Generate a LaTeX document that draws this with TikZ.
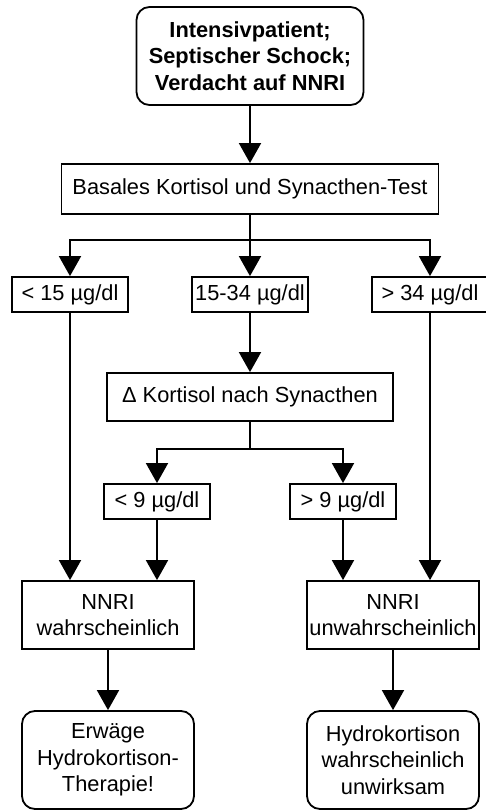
\documentclass[tikz,border=0pt]{standalone}
\usepackage{fontspec}
\setmainfont{Liberation Sans}
\usetikzlibrary{arrows.meta}
\begin{document}
\begin{tikzpicture}[x=1pt,y=-1pt,
  every node/.style={font=\fontsize{21.8}{26.5}\selectfont, align=center, inner sep=0pt},
  box/.style={draw, line width=1.8pt, minimum width=#1},
  rbox/.style={draw, line width=1.8pt, rounded corners=13pt},
  conn/.style={line width=1.8pt},
  arr/.style={conn, -{Triangle[width=22pt,length=20pt]}}
]
\useasboundingbox (0,0) rectangle (485,811);
\node[rbox, minimum width=227pt, minimum height=98pt, font=\fontsize{21.8}{26.5}\selectfont\bfseries] (top) at (250,56) {Intensivpatient;\\Septischer Schock;\\Verdacht auf NNRI};
\node[box=377pt, minimum height=50pt] (basal) at (250,189) {Basales Kortisol und Synacthen-Test};
\node[box=116pt, minimum height=35pt] (lt15) at (70,294.5) {< 15 µg/dl};
\node[box=116pt, minimum height=35pt] (mid) at (250,294.5) {15-34 µg/dl};
\node[box=116pt, minimum height=35pt] (gt34) at (430,294.5) {> 34 µg/dl};
\node[box=286pt, minimum height=48pt] (delta) at (250,397) {Δ Kortisol nach Synacthen};
\node[box=106pt, minimum height=35pt] (lt9) at (157,501.5) {< 9 µg/dl};
\node[box=106pt, minimum height=35pt] (gt9) at (343,501.5) {> 9 µg/dl};
\node[box=172pt, minimum height=68pt] (n1) at (108,615) {NNRI\\wahrscheinlich};
\node[box=172pt, minimum height=68pt] (n2) at (393,615) {NNRI\\unwahrscheinlich};
\node[rbox, minimum width=172pt, minimum height=98pt] (e1) at (108,760) {Erwäge\\Hydrokortison-\\Therapie!};
\node[rbox, minimum width=172pt, minimum height=98pt] (e2) at (393,760) {Hydrokortison\\wahrscheinlich\\unwirksam};
\coordinate (b1) at (250,240);
\coordinate (b2) at (250,449);
\draw[arr] (top) -- (basal);
\draw[conn] (basal.south) -- (b1);
\draw[arr] (b1) -| (lt15.north);
\draw[arr] (b1) -- (mid.north);
\draw[arr] (b1) -| (gt34.north);
\draw[arr] (mid) -- (delta);
\draw[conn] (delta.south) -- (b2);
\draw[arr] (b2) -| (lt9.north);
\draw[arr] (b2) -| (gt9.north);
\draw[arr] (lt15.south) -- (lt15.south |- n1.north);
\draw[arr] (lt9.south) -- (lt9.south |- n1.north);
\draw[arr] (gt9.south) -- (gt9.south |- n2.north);
\draw[arr] (gt34.south) -- (gt34.south |- n2.north);
\draw[arr] (n1) -- (e1);
\draw[arr] (n2) -- (e2);
\end{tikzpicture}
\end{document}
